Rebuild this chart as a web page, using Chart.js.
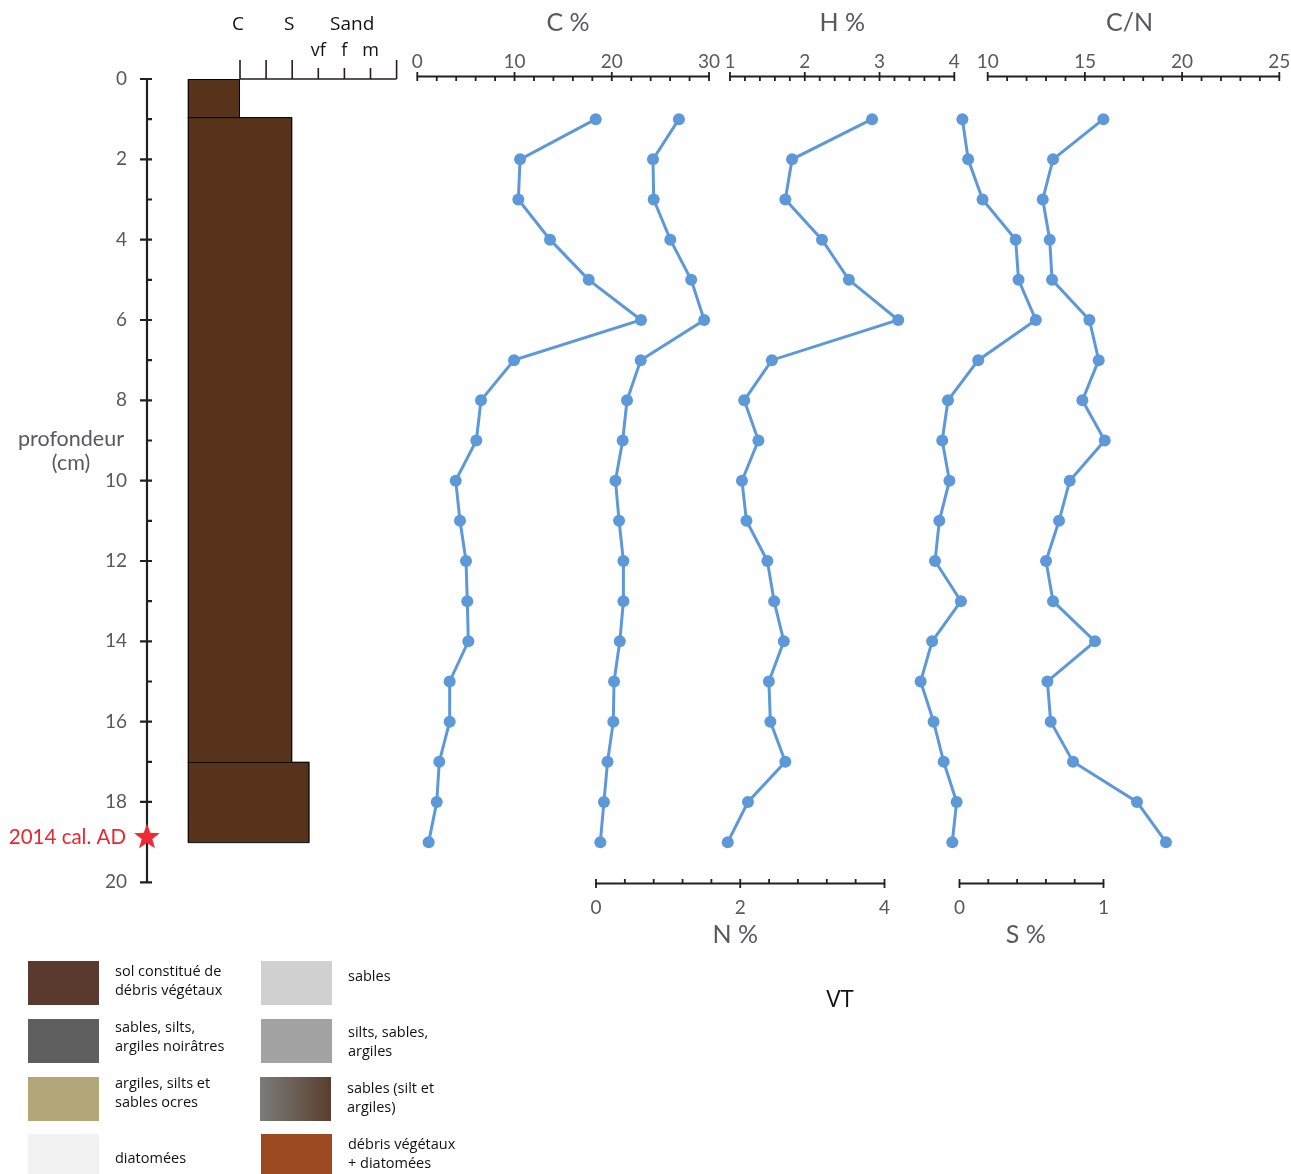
<!DOCTYPE html>
<html>
<head>
<meta charset="utf-8">
<script src="https://cdn.jsdelivr.net/npm/chart.js@4.4.1/dist/chart.umd.min.js"></script>
<style>
  body { margin: 0; background: #fff; }
  #wrap { position: relative; width: 1291px; height: 1174px; overflow: hidden; }
  #chart { position: absolute; left: 0; top: 0; }
  .sw { position: absolute; width: 71px; height: 44px; }
  .lt { position: absolute; font: 14.5px 'Open Sans', sans-serif; color: #111; line-height: 19px; white-space: nowrap; }
</style>
</head>
<body>
<div id="wrap">
  <canvas id="chart" width="1291" height="1174"></canvas>
</div>
<script>
// depth of each sample (cm)
const depths = [1, 2, 3, 4, 5, 6, 7, 8, 9, 10, 11, 12, 13, 14, 15, 16, 17, 18, 19];
const carbon = [18.35, 10.57, 10.39, 13.65, 17.63, 23.01, 9.95, 6.55, 6.07, 3.95, 4.39, 5.01, 5.14, 5.25, 3.33, 3.33, 2.26, 2.0, 1.17];
const nitrogen = [1.15, 0.79, 0.80, 1.03, 1.32, 1.50, 0.62, 0.43, 0.37, 0.27, 0.32, 0.38, 0.38, 0.33, 0.25, 0.24, 0.16, 0.11, 0.06];
const hydrogen = [2.90, 1.83, 1.74, 2.23, 2.59, 3.25, 1.56, 1.19, 1.38, 1.16, 1.22, 1.50, 1.59, 1.72, 1.52, 1.54, 1.74, 1.24, 0.97];
const sulfur = [0.02, 0.06, 0.16, 0.39, 0.41, 0.53, 0.13, -0.08, -0.12, -0.07, -0.14, -0.17, 0.01, -0.19, -0.27, -0.18, -0.11, -0.02, -0.05];
const cnRatio = [15.95, 13.36, 12.83, 13.19, 13.31, 15.23, 15.71, 14.87, 16.02, 14.22, 13.67, 13.0, 13.36, 15.52, 13.07, 13.24, 14.39, 17.68, 19.17];

// lithology column
const layerTop = [0, 0.95, 17];
const layerBottom = [0.95, 17, 19];
const layerGrain = [0, 2, 2.66];   // 0 = C, 2 = S, 3 = vf ...
const datedDepth = 18.88;
const datedLabel = '2014 cal. AD';

// tick labels
const depthTicks = [0, 2, 4, 6, 8, 10, 12, 14, 16, 18, 20];
const cTicks = [0, 10, 20, 30];
const hTicks = [1, 2, 3, 4];
const cnTicks = [10, 15, 20, 25];
const nTicks = [0, 2, 4];
const sTicks = [0, 1];
const grainTicks = [0, 1, 2, 3, 4, 5, 6];

const W = 1291;
const BLUE = '#5d98d8';
const GREY = '#58595b';
const INK = '#231f20';

// scale range so that value v0 sits at pixel p0 and v1 at p1
function fit(v0, v1, p0, p1) {
  const unit = (p1 - p0) / (v1 - v0);
  return { min: v0 - p0 / unit, max: v0 + (W - p0) / unit };
}

function series(xs, axis) {
  return {
    data: depths.map((d, i) => ({ x: xs[i], y: d })),
    xAxisID: axis,
    showLine: true,
    borderColor: BLUE,
    backgroundColor: BLUE,
    borderWidth: 3,
    pointRadius: 6,
    pointBorderWidth: 0,
    clip: false
  };
}

function hAxis(ctx, sc, ticks, step, y, dir, labelY) {
  const a = ticks[0], b = ticks[ticks.length - 1];
  ctx.strokeStyle = INK;
  ctx.lineWidth = 1.8;
  ctx.beginPath();
  ctx.moveTo(sc.getPixelForValue(a) - 1, y);
  ctx.lineTo(sc.getPixelForValue(b) + 1, y);
  for (let k = 0; a + k * step <= b + 1e-9; k++) {
    const v = a + k * step;
    const x = sc.getPixelForValue(v);
    if (ticks.some(t => Math.abs(t - v) < 1e-9)) {
      ctx.moveTo(x, y - 4.5);
      ctx.lineTo(x, y + 4.5);
    } else {
      ctx.moveTo(x, y);
      ctx.lineTo(x, y + dir * 4.5);
    }
  }
  ctx.stroke();
  ctx.fillStyle = GREY;
  ctx.font = '19px Lato, sans-serif';
  ctx.textAlign = 'center';
  ctx.textBaseline = 'middle';
  ticks.forEach(t => ctx.fillText(String(t), sc.getPixelForValue(t), labelY));
}

function star(ctx, cx, cy, r1, r2) {
  ctx.beginPath();
  for (let i = 0; i < 10; i++) {
    const r = i % 2 ? r2 : r1;
    const a = -Math.PI / 2 + i * Math.PI / 5;
    ctx.lineTo(cx + r * Math.cos(a), cy + r * Math.sin(a));
  }
  ctx.closePath();
  ctx.fill();
}

const decor = {
  id: 'decor',
  beforeDatasetsDraw(chart) {
    const ctx = chart.ctx;
    const s = chart.scales;
    const y = s.y, g = s.xG;
    ctx.save();

    // lithology
    layerTop.forEach((top, i) => {
      const x0 = g.getPixelForValue(-2), x1 = g.getPixelForValue(layerGrain[i]);
      const y0 = y.getPixelForValue(top), y1 = y.getPixelForValue(layerBottom[i]);
      ctx.fillStyle = '#56331a';
      ctx.fillRect(x0, y0, x1 - x0, y1 - y0);
      ctx.strokeStyle = '#000';
      ctx.lineWidth = 1;
      ctx.strokeRect(x0 + 0.5, y0 + 0.5, x1 - x0 - 1, y1 - y0);
    });

    // grain-size scale
    const gy = y.getPixelForValue(0);
    ctx.strokeStyle = INK;
    ctx.lineWidth = 1.6;
    ctx.beginPath();
    ctx.moveTo(g.getPixelForValue(0), gy);
    ctx.lineTo(g.getPixelForValue(6), gy);
    grainTicks.forEach(t => {
      const x = g.getPixelForValue(t);
      const tall = t <= 2 || t === 6;
      ctx.moveTo(x, gy);
      ctx.lineTo(x, gy - (tall ? 19 : 11));
    });
    ctx.stroke();
    ctx.fillStyle = '#111';
    ctx.font = '19px "Open Sans", sans-serif';
    ctx.textAlign = 'center';
    ctx.textBaseline = 'middle';
    ctx.fillText('C', g.getPixelForValue(0) - 2, 25);
    ctx.fillText('S', g.getPixelForValue(2) - 3, 25);
    ctx.fillText('Sand', g.getPixelForValue(4.3), 25);
    ctx.font = '18px "Open Sans", sans-serif';
    ctx.fillText('vf', g.getPixelForValue(3), 51);
    ctx.fillText('f', g.getPixelForValue(4), 51);
    ctx.fillText('m', g.getPixelForValue(5), 51);

    // depth axis
    const dx = 147;
    ctx.strokeStyle = INK;
    ctx.lineWidth = 2.2;
    ctx.beginPath();
    ctx.moveTo(dx, y.getPixelForValue(0));
    ctx.lineTo(dx, y.getPixelForValue(20));
    for (let d = 0; d <= 20; d++) {
      const py = y.getPixelForValue(d);
      ctx.moveTo(d % 2 ? dx : dx - 7, py);
      ctx.lineTo(dx + 5, py);
    }
    ctx.stroke();
    ctx.fillStyle = GREY;
    ctx.font = '19px Lato, sans-serif';
    ctx.textAlign = 'right';
    depthTicks.forEach(t => ctx.fillText(String(t), 127, y.getPixelForValue(t)));
    ctx.textAlign = 'center';
    ctx.font = '21.5px Lato, sans-serif';
    ctx.fillText('profondeur', 71, 439);
    ctx.fillText('(cm)', 71, 463);

    // value axes
    hAxis(ctx, s.xC, cTicks, 2, 76.5, 1, 62);
    hAxis(ctx, s.xH, hTicks, 0.2, 76.5, 1, 62);
    hAxis(ctx, s.xCN, cnTicks, 1, 76.5, 1, 62);
    hAxis(ctx, s.xN, nTicks, 0.4, 883.5, -1, 908);
    hAxis(ctx, s.xS, sTicks, 0.2, 883.5, -1, 908);

    ctx.fillStyle = GREY;
    ctx.font = '25px Lato, sans-serif';
    ctx.textAlign = 'center';
    ctx.fillText('C %', s.xC.getPixelForValue(15.5), 23);
    ctx.fillText('H %', s.xH.getPixelForValue(2.5), 23);
    ctx.fillText('C/N', s.xCN.getPixelForValue(17.3), 23);
    ctx.fillText('N %', s.xN.getPixelForValue(1.93), 935);
    ctx.fillText('S %', s.xS.getPixelForValue(0.46), 935);

    ctx.fillStyle = '#111';
    ctx.font = '24px "Open Sans", sans-serif';
    ctx.fillText('VT', 840, 1000);
    ctx.restore();
  },
  afterDatasetsDraw(chart) {
    const ctx = chart.ctx;
    const py = chart.scales.y.getPixelForValue(datedDepth);
    ctx.save();
    ctx.fillStyle = '#ee2a35';
    star(ctx, 147, py, 13.5, 5.6);
    ctx.fillStyle = '#e8272f';
    ctx.font = '20.5px Lato, sans-serif';
    ctx.textAlign = 'right';
    ctx.textBaseline = 'middle';
    ctx.fillText(datedLabel, 126, py);
    ctx.restore();
  }
};

new Chart(document.getElementById('chart'), {
  type: 'scatter',
  data: {
    datasets: [
      series(carbon, 'xC'),
      series(nitrogen, 'xN'),
      series(hydrogen, 'xH'),
      series(sulfur, 'xS'),
      series(cnRatio, 'xCN')
    ]
  },
  options: {
    responsive: false,
    animation: false,
    layout: { autoPadding: false, padding: { top: 79, bottom: 1174 - 882.3, left: 0, right: 0 } },
    plugins: { legend: { display: false }, tooltip: { enabled: false } },
    scales: {
      y: { type: 'linear', reverse: true, min: 0, max: 20, display: false },
      xG: { type: 'linear', axis: 'x', position: 'top', display: false, ...fit(0, 6, 240, 396.6) },
      xC: { type: 'linear', axis: 'x', position: 'top', display: false, ...fit(0, 30, 417.3, 709) },
      xH: { type: 'linear', axis: 'x', position: 'top', display: false, ...fit(1, 4, 730, 954.3) },
      xCN: { type: 'linear', axis: 'x', position: 'top', display: false, ...fit(10, 25, 987.7, 1279.3) },
      xN: { type: 'linear', axis: 'x', position: 'bottom', display: false, ...fit(0, 4, 596, 884.5) },
      xS: { type: 'linear', axis: 'x', position: 'bottom', display: false, ...fit(0, 1, 959.5, 1103.5) }
    }
  },
  plugins: [decor]
});

// lithology legend
const legendItems = [
  { x: 28, y: 961, fill: '#5a3a2e', text: ['sol constitué de', 'débris végétaux'], ty: 961 },
  { x: 28, y: 1019, fill: '#5f5f5f', text: ['sables, silts,', 'argiles noirâtres'], ty: 1017 },
  { x: 28, y: 1077, fill: '#b3a679', text: ['argiles, silts et', 'sables ocres'], ty: 1073 },
  { x: 28, y: 1134, fill: '#f2f2f2', text: ['diatomées'], ty: 1148 },
  { x: 261, y: 961, fill: '#d0d0d0', text: ['sables'], ty: 966 },
  { x: 261, y: 1019, fill: '#a3a3a3', text: ['silts, sables,', 'argiles'], ty: 1022 },
  { x: 260, y: 1077, fill: 'linear-gradient(to right, #7b7b7b, #5a3e2c)', text: ['sables (silt et', 'argiles)'], ty: 1078 },
  { x: 261, y: 1134, fill: '#9c4a1f', text: ['débris végétaux', '+ diatomées'], ty: 1134 }
];
const wrap = document.getElementById('wrap');
legendItems.forEach(it => {
  const sw = document.createElement('div');
  sw.className = 'sw';
  sw.style.left = it.x + 'px';
  sw.style.top = it.y + 'px';
  sw.style.background = it.fill;
  wrap.appendChild(sw);
  const t = document.createElement('div');
  t.className = 'lt';
  t.style.left = (it.x + 87) + 'px';
  t.style.top = it.ty + 'px';
  t.innerHTML = it.text.join('<br>');
  wrap.appendChild(t);
});
</script>
</body>
</html>
